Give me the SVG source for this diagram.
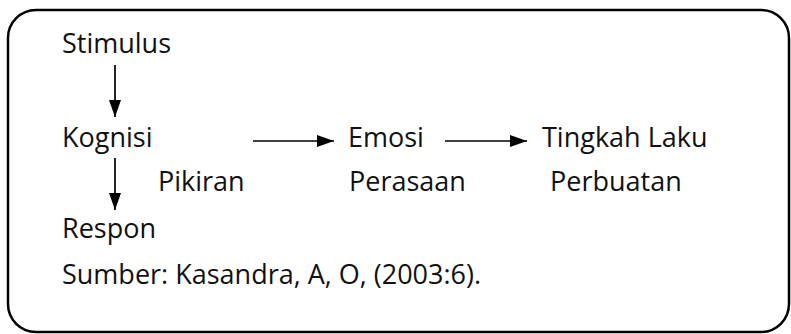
<svg xmlns="http://www.w3.org/2000/svg" width="791" height="334" viewBox="0 0 791 334">
<defs>
<style>
text{font-family:"Open Sans","Noto Sans","DejaVu Sans",sans-serif;font-size:27px;fill:#111;}
.c{stroke:#000;stroke-width:1.7;fill:none;}
</style>
<marker id="ah" markerWidth="17" markerHeight="12" refX="17" refY="6" orient="auto" markerUnits="userSpaceOnUse">
<path d="M0,0 L17,6 L0,12 Z" fill="#000"/>
</marker>
</defs>
<rect x="8" y="10" width="781" height="322" rx="28" ry="28" fill="#fff" stroke="#000" stroke-width="2.5"/>
<g id="stimulus"><text x="62" y="53">Stimulus</text></g>
<g id="kognisi"><text x="62" y="147">Kognisi</text></g>
<g id="emosi"><text x="348" y="147">Emosi</text></g>
<g id="tingkah"><text x="542" y="147">Tingkah Laku</text></g>
<g id="pikiran"><text x="158" y="191">Pikiran</text></g>
<g id="perasaan"><text x="349" y="191">Perasaan</text></g>
<g id="perbuatan"><text x="550" y="191">Perbuatan</text></g>
<g id="respon"><text x="62" y="238">Respon</text></g>
<g id="sumber"><text x="62" y="284">Sumber: Kasandra, A, O, (2003:6).</text></g>
<g id="connectors">
<line class="c" x1="115" y1="65" x2="115" y2="117" marker-end="url(#ah)"/>
<line class="c" x1="253" y1="141" x2="334" y2="141" marker-end="url(#ah)"/>
<line class="c" x1="445" y1="141" x2="527" y2="141" marker-end="url(#ah)"/>
<line class="c" x1="115" y1="158" x2="115" y2="210" marker-end="url(#ah)"/>
</g>
</svg>
